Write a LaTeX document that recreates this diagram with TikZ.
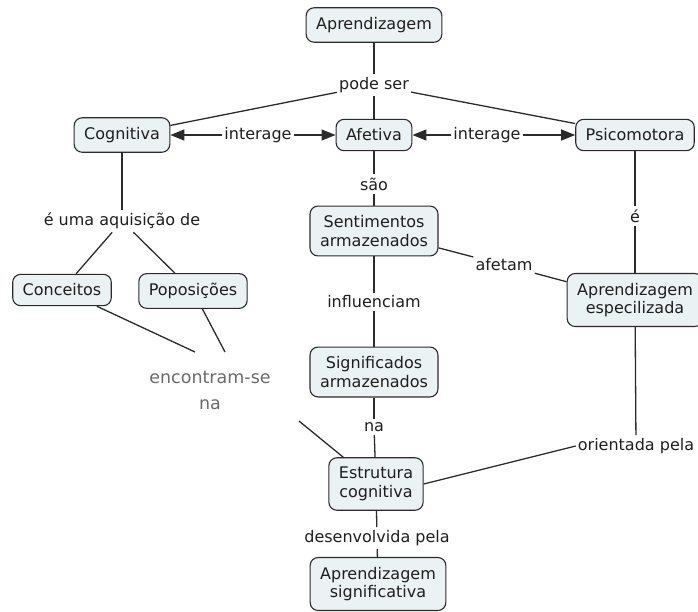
\documentclass[tikz,border=0pt]{standalone}
\usepackage{fontspec}
\setmainfont{DejaVu Sans}
\usetikzlibrary{arrows.meta,calc}
\definecolor{cmapFill}{HTML}{EBF2F4}
\definecolor{cmapLine}{HTML}{2B2B2B}
\definecolor{cmapText}{HTML}{1E1E1E}
\definecolor{cmapGrey}{HTML}{6A6A6A}

\begin{document}
\begin{tikzpicture}[x=1pt,y=-1pt,
  font=\fontsize{16}{18.5}\selectfont,text=cmapText,
  concept/.style={draw=cmapLine,fill=cmapFill,line width=1.1pt,rounded corners=8pt,
                  align=center,inner xsep=10pt,inner ysep=9.5pt},
  phrase/.style={inner xsep=2pt,inner ysep=3pt,align=center},
  conn/.style={draw=cmapLine,line width=1.3pt},
  connarrow/.style={conn,-{Triangle[length=14pt,width=11pt]}}]
  \useasboundingbox (0,0) rectangle (698,611);
  \node[concept] (apr) at (374,25) {Aprendizagem};
  \node[phrase] (pode) at (374,85) {pode ser};
  \node[concept] (cog) at (122,135) {Cognitiva};
  \node[concept] (afe) at (374,135) {Afetiva};
  \node[concept] (psi) at (635,135) {Psicomotora};
  \node[phrase] (intL) at (258,135) {interage};
  \node[phrase] (intR) at (487,135) {interage};
  \node[phrase] (sao) at (374,184) {são};
  \node[concept] (sent) at (374,231) {Sentimentos\\armazenados};
  \node[phrase] (infl) at (374,302) {influenciam};
  \node[concept] (sig) at (374,372) {Significados\\armazenados};
  \node[phrase] (na) at (374,427) {na};
  \node[concept] (estr) at (376,484) {Estrutura\\cognitiva};
  \node[phrase] (desenv) at (377,538) {desenvolvida pela};
  \node[concept] (asig) at (378,584) {Aprendizagem\\significativa};
  \node[phrase] (eR) at (635,216) {é};
  \node[concept] (aesp) at (635,300) {Aprendizagem\\especilizada};
  \node[phrase] (afetam) at (504,265) {afetam};
  \node[phrase] (orient) at (636,446) {orientada pela};
  \node[phrase] (aquis) at (122,221) {é uma aquisição de};
  \node[concept] (conc) at (62,290) {Conceitos};
  \node[concept] (popo) at (193,291) {Poposições};
  \node[phrase,text=cmapGrey,font=\fontsize{17.5}{26}\selectfont] (enc) at (210,390) {encontram-se\\na};

  \draw[conn] (apr) -- (pode);
  \draw[conn] (pode) -- (cog);
  \draw[conn] (pode) -- (afe);
  \draw[conn] (pode) -- (psi);
  \draw[connarrow] (intL) -- (cog);
  \draw[connarrow] (intL) -- (afe);
  \draw[connarrow] (intR) -- (afe);
  \draw[connarrow] (intR) -- (psi);
  \draw[conn] (afe) -- (sao);
  \draw[conn] (sao) -- (sent);
  \draw[conn] (sent) -- (infl);
  \draw[conn] (infl) -- (sig);
  \draw[conn] (sig) -- (na);
  \draw[conn] (na) -- (estr);
  \draw[conn] (estr) -- (desenv);
  \draw[conn] (desenv) -- (asig);
  \draw[conn] (psi) -- (eR);
  \draw[conn] (eR) -- (aesp);
  \draw[conn] (sent) -- (afetam);
  \draw[conn] (afetam) -- (aesp);
  \draw[conn] (aesp) -- (orient);
  \draw[conn] (orient.west) -- (estr.east);
  \draw[conn] (cog) -- (aquis);
  \draw[conn] (aquis) -- (conc);
  \draw[conn] (aquis) -- (popo);
  \draw[conn] (conc) -- ($(enc)+(-15,-38)$);
  \draw[conn] (popo) -- ($(enc)+(15,-38)$);
  \draw[conn] ($(enc)+(89,31)$) -- (estr);
\end{tikzpicture}
\end{document}
